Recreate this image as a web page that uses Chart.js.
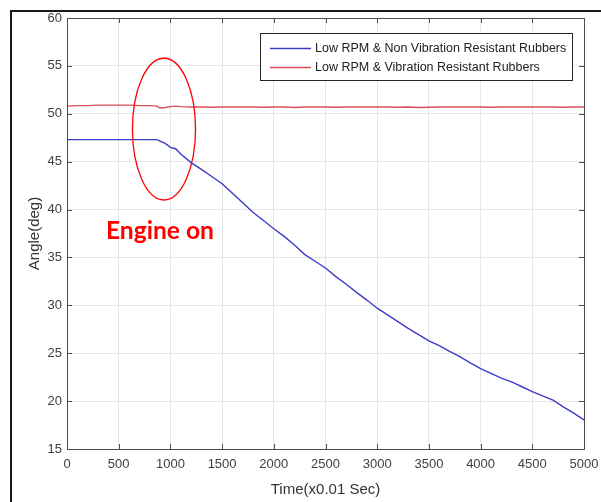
<!DOCTYPE html>
<html>
<head>
<meta charset="utf-8">
<script src="https://cdn.jsdelivr.net/npm/chart.js@4.4.1/dist/chart.umd.min.js"></script>
<style>
  html, body { margin: 0; padding: 0; background: #fff; }
  #wrap { width: 601px; height: 502px; position: relative; }
</style>
</head>
<body>
<div id="wrap"><canvas id="angleChart" width="601" height="502"></canvas></div>
<script>
// time axis samples (x0.01 sec)
const timePoints = [0, 100, 200, 300, 400, 500, 600, 700, 800, 870, 900, 950, 1000, 1050, 1100,
  1200, 1300, 1400, 1500, 1600, 1700, 1800, 1900, 2000, 2100, 2200, 2300, 2400, 2500,
  2600, 2700, 2800, 2900, 3000, 3100, 3200, 3300, 3400, 3500, 3600, 3700, 3800, 3900, 4000,
  4100, 4200, 4300, 4400, 4500, 4600, 4700, 4800, 4900, 5000];

// angle (deg), non vibration resistant rubbers
const nonResistant = [47.3, 47.3, 47.3, 47.3, 47.3, 47.3, 47.3, 47.3, 47.3, 47.3, 47.15, 46.9, 46.5, 46.35, 45.8,
  44.9, 44.2, 43.45, 42.7, 41.7, 40.7, 39.7, 38.85, 38.0, 37.2, 36.3, 35.3, 34.6, 33.9,
  33.0, 32.2, 31.35, 30.55, 29.7, 29.0, 28.3, 27.6, 26.95, 26.3, 25.8, 25.2, 24.65, 24.0, 23.4,
  22.9, 22.4, 22.0, 21.5, 21.0, 20.55, 20.1, 19.4, 18.75, 18.05];

// angle (deg), vibration resistant rubbers
const resistant = [50.8, 50.85, 50.85, 50.9, 50.9, 50.9, 50.9, 50.85, 50.85, 50.8, 50.6, 50.65, 50.75, 50.8, 50.75,
  50.7, 50.7, 50.68, 50.7, 50.7, 50.72, 50.7, 50.68, 50.7, 50.7, 50.66, 50.7, 50.72, 50.7,
  50.68, 50.7, 50.7, 50.7, 50.72, 50.7, 50.68, 50.7, 50.65, 50.68, 50.7, 50.7, 50.72, 50.7, 50.7,
  50.68, 50.7, 50.7, 50.7, 50.72, 50.7, 50.7, 50.68, 50.7, 50.7];

const seriesLabels = ['Low RPM & Non Vibration Resistant Rubbers', 'Low RPM & Vibration Resistant Rubbers'];
const seriesColors = ['#3c3cc8', '#d6505a'];

const xTicks = [0, 500, 1000, 1500, 2000, 2500, 3000, 3500, 4000, 4500, 5000];
const yTicks = [15, 20, 25, 30, 35, 40, 45, 50, 55, 60];

const toPoints = (ys) => ys.map((y, i) => ({ x: timePoints[i], y }));

const AXIS_COLOR = '#4d4d4d';
const FONT = "'Liberation Sans', Arial, sans-serif";

// outer frame of the figure + white background
const framePlugin = {
  id: 'frame',
  beforeDraw(chart) {
    const ctx = chart.ctx;
    ctx.save();
    ctx.fillStyle = '#fff';
    ctx.fillRect(0, 0, chart.width, chart.height);
    ctx.strokeStyle = '#1a1a1a';
    ctx.lineWidth = 2;
    ctx.beginPath();
    ctx.moveTo(11, chart.height);
    ctx.lineTo(11, 11);
    ctx.lineTo(chart.width, 11);
    ctx.stroke();
    ctx.restore();
  }
};

// matlab style box with inward ticks on all sides
const boxPlugin = {
  id: 'box',
  afterDraw(chart) {
    const { ctx, chartArea: a, scales } = chart;
    const len = 5;
    ctx.save();
    ctx.strokeStyle = AXIS_COLOR;
    ctx.lineWidth = 1;
    ctx.beginPath();
    xTicks.forEach(v => {
      const px = Math.round(scales.x.getPixelForValue(v)) + 0.5;
      ctx.moveTo(px, a.bottom); ctx.lineTo(px, a.bottom - len);
      ctx.moveTo(px, a.top); ctx.lineTo(px, a.top + len);
    });
    yTicks.forEach(v => {
      const py = Math.round(scales.y.getPixelForValue(v)) + 0.5;
      ctx.moveTo(a.left, py); ctx.lineTo(a.left + len, py);
      ctx.moveTo(a.right, py); ctx.lineTo(a.right - len, py);
    });
    ctx.stroke();
    ctx.strokeRect(Math.round(a.left) + 0.5, Math.round(a.top) + 0.5,
      Math.round(a.right - a.left), Math.round(a.bottom - a.top));
    ctx.restore();
  }
};

// red ellipse + "Engine on" note
const notePlugin = {
  id: 'note',
  afterDatasetsDraw(chart, args, opts) {
    const { ctx, scales } = chart;
    const cx = scales.x.getPixelForValue(opts.center[0]);
    const cy = scales.y.getPixelForValue(opts.center[1]);
    const rx = Math.abs(scales.x.getPixelForValue(opts.center[0] + opts.radius[0]) - cx);
    const ry = Math.abs(scales.y.getPixelForValue(opts.center[1] + opts.radius[1]) - cy);
    ctx.save();
    ctx.strokeStyle = '#ff0000';
    ctx.lineWidth = 1.3;
    ctx.beginPath();
    ctx.ellipse(cx, cy, rx, ry, 0, 0, Math.PI * 2);
    ctx.stroke();
    ctx.fillStyle = '#ff0000';
    ctx.font = "bold 25px Lato, 'Noto Sans', sans-serif";
    ctx.textAlign = 'center';
    ctx.textBaseline = 'alphabetic';
    ctx.fillText(opts.text, scales.x.getPixelForValue(opts.textAt[0]),
      scales.y.getPixelForValue(opts.textAt[1]), 108);
    ctx.restore();
  }
};

// legend box in the upper right of the axes
const legendPlugin = {
  id: 'boxLegend',
  afterDraw(chart) {
    const ctx = chart.ctx;
    const x0 = 260, y0 = 33, w = 312, h = 47;
    ctx.save();
    ctx.fillStyle = '#fff';
    ctx.fillRect(x0, y0, w, h);
    ctx.strokeStyle = '#262626';
    ctx.lineWidth = 1;
    ctx.strokeRect(x0 + 0.5, y0 + 0.5, w, h);
    ctx.font = '12.5px ' + FONT;
    ctx.textBaseline = 'middle';
    ctx.fillStyle = '#222';
    chart.data.datasets.forEach((ds, i) => {
      const y = y0 + 15 + i * 19;
      ctx.strokeStyle = ds.borderColor;
      ctx.lineWidth = 1.3;
      ctx.beginPath();
      ctx.moveTo(270, y + 0.5);
      ctx.lineTo(311, y + 0.5);
      ctx.stroke();
      ctx.fillText(ds.label, 315, y + 1);
    });
    ctx.restore();
  }
};

const ctx = document.getElementById('angleChart').getContext('2d');
new Chart(ctx, {
  type: 'line',
  data: {
    datasets: [
      {
        label: seriesLabels[0],
        data: toPoints(nonResistant),
        borderColor: seriesColors[0],
        borderWidth: 1.4,
        pointRadius: 0,
        tension: 0,
        fill: false
      },
      {
        label: seriesLabels[1],
        data: toPoints(resistant),
        borderColor: seriesColors[1],
        borderWidth: 1.4,
        pointRadius: 0,
        tension: 0,
        fill: false
      }
    ]
  },
  options: {
    responsive: false,
    animation: false,
    events: [],
    layout: { padding: { top: 18, right: 17, left: 0, bottom: 0 } },
    plugins: {
      legend: { display: false },
      tooltip: { enabled: false },
      note: { center: [938, 48.4], radius: [305, 7.4], text: 'Engine on', textAt: [899, 36.9] }
    },
    scales: {
      x: {
        type: 'linear',
        min: 0,
        max: 5000,
        afterBuildTicks: (scale) => { scale.ticks = xTicks.map(v => ({ value: v })); },
        afterFit: (scale) => { scale.height = 53; scale.paddingLeft = 0; scale.paddingRight = 0; },
        ticks: {
          color: '#404040',
          font: { family: FONT, size: 13 },
          padding: 8,
          maxRotation: 0,
          autoSkip: false,
          callback: (v) => String(v)
        },
        grid: { color: '#e6e6e6', drawTicks: false },
        border: { display: true, color: AXIS_COLOR },
        title: {
          display: true,
          text: 'Time(x0.01 Sec)',
          color: '#333',
          font: { family: FONT, size: 15 },
          padding: 3
        }
      },
      y: {
        min: 15,
        max: 60,
        afterBuildTicks: (scale) => { scale.ticks = yTicks.map(v => ({ value: v })); },
        afterFit: (scale) => { scale.width = 67; scale.paddingTop = 0; scale.paddingBottom = 0; },
        ticks: {
          color: '#404040',
          font: { family: FONT, size: 13 },
          padding: 5,
          autoSkip: false,
          callback: (v) => String(v)
        },
        grid: { color: '#e6e6e6', drawTicks: false },
        border: { display: true, color: AXIS_COLOR },
        title: {
          display: true,
          text: 'Angle(deg)',
          color: '#333',
          font: { family: FONT, size: 15 },
          padding: 26
        }
      }
    }
  },
  plugins: [framePlugin, boxPlugin, notePlugin, legendPlugin]
});
</script>
</body>
</html>
